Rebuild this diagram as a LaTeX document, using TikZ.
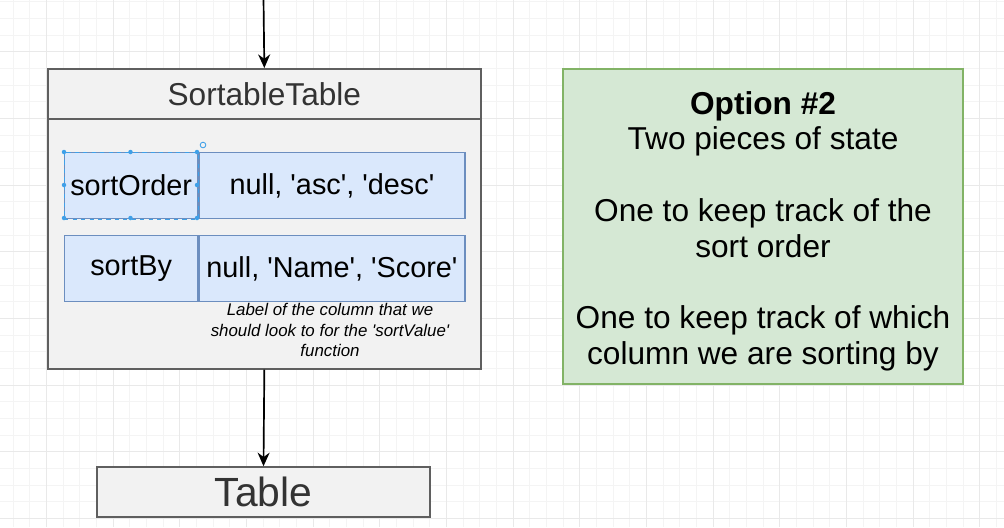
\documentclass[tikz,border=0pt]{standalone}
\usepackage{fontspec}
\setmainfont{Liberation Sans}
\usetikzlibrary{arrows.meta}
\definecolor{boxgray}{HTML}{F2F2F2}
\definecolor{linegray}{HTML}{5F5F5F}
\definecolor{textgray}{HTML}{333333}
\definecolor{cellblue}{HTML}{DAE8FC}
\definecolor{cellline}{HTML}{6C8EBF}
\definecolor{notegreen}{HTML}{D5E8D4}
\definecolor{noteline}{HTML}{82B366}
\definecolor{handleblue}{HTML}{3FA0E8}
\definecolor{gridminor}{HTML}{F4F4F4}
\definecolor{gridmajor}{HTML}{E9E9E9}
\newcommand{\sq}{\textquotesingle}
\begin{document}
\begin{tikzpicture}[x=0.025cm,y=-0.025cm,>={Stealth[length=0.34cm,width=0.3cm]},
    classbox/.style={draw=linegray,fill=boxgray,line width=1.1pt,inner sep=0pt,anchor=north west},
    cell/.style={draw=cellline,fill=cellblue,line width=0.9pt,inner sep=0pt,anchor=north west,
      minimum height=1.65cm,font=\fontsize{20.5}{23}\selectfont},
    flow/.style={->,line width=1.2pt}]
\useasboundingbox (0,0) rectangle (1004,527);
\fill[white] (0,0) rectangle (1004,527);
%Canvas grid
    \foreach \gx in {0,...,59}
        \draw[gridminor,line width=0.5pt] ({13+16.667*\gx},0) -- ({13+16.667*\gx},527);
    \foreach \gy in {0,...,31}
        \draw[gridminor,line width=0.5pt] (0,{1.67+16.667*\gy}) -- (1004,{1.67+16.667*\gy});
    \foreach \gx in {0,...,14}
        \draw[gridmajor,line width=0.5pt] ({46.33+66.667*\gx},0) -- ({46.33+66.667*\gx},527);
    \foreach \gy in {0,...,7}
        \draw[gridmajor,line width=0.5pt] (0,{51.67+66.667*\gy}) -- (1004,{51.67+66.667*\gy});

%Component box with its header
    \node[classbox,minimum width=10.825cm,minimum height=7.5cm] (sortable) at (47,68) {};
    \node[classbox,minimum width=10.825cm,minimum height=1.25cm,text=textgray,
      font=\fontsize{22.5}{25}\selectfont] (header) at (47,68) {SortableTable};

%State rows
    \node[cell,minimum width=3.325cm] (orderkey) at (64,152) {sortOrder};
    \node[cell,minimum width=6.65cm] (orderval) at (orderkey.north east) {null, \sq asc\sq, \sq desc\sq};
    \node[cell,minimum width=3.325cm] (bykey) at (64,235) {sortBy};
    \node[cell,minimum width=6.65cm] (byval) at (bykey.north east) {null, \sq Name\sq, \sq Score\sq};
    \node[align=center,inner sep=0pt,font=\fontsize{12}{14.4}\selectfont\itshape] (hint) at (330,330)
      {Label of the column that we\\should look to for the \sq sortValue\sq\\function};

%Selection handles on sortOrder
    \draw[handleblue,dashed,line width=0.5pt] (orderkey.north west) rectangle (orderkey.south east);
    \foreach \hx/\hy in {64/152,130.5/152,197/152,64/185,197/185,64/218,130.5/218,197/218}
        \fill[handleblue] (\hx,\hy) circle (1.6pt);
    \draw[handleblue,line width=0.6pt] (203,145) circle (2pt);

%Child component
    \node[classbox,anchor=center,minimum width=8.325cm,minimum height=1.25cm,text=textgray,
      font=\fontsize{29}{31}\selectfont] (table) at (263.5,492) {Table};

    \coordinate (entry) at (263.5,-2);
    \draw[flow] (entry) -- (header.north);
    \draw[flow] (sortable.south) -- (table.north);

%Option note
    \node[draw=noteline,fill=notegreen,line width=0.9pt,inner sep=0pt,align=center,
      minimum width=10cm,minimum height=7.875cm] (option) at (763,226.5) {};
    \node[align=center,inner sep=0pt,font=\fontsize{22.5}{25.4}\selectfont] (optiontext) at (763,231)
      {{\bfseries Option \#2}\\Two pieces of state\\[25.4pt]One to keep track of the\\sort order\\[25.4pt]%
       One to keep track of which\\column we are sorting by};
\end{tikzpicture}
\end{document}
